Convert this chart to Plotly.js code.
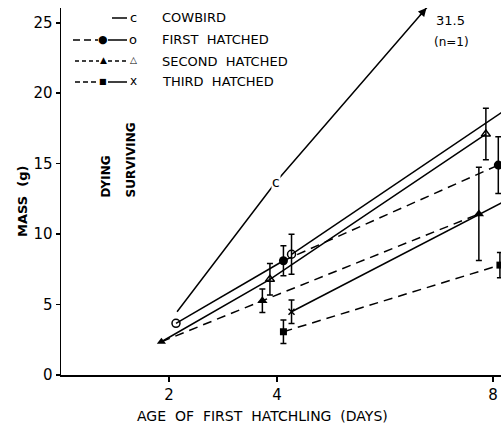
<!DOCTYPE html>
<html>
<head>
<meta charset="utf-8">
<script src="https://cdn.plot.ly/plotly-3.0.1.min.js"></script>
<style>html,body{margin:0;padding:0;background:#fff;}#chart{width:501px;height:428px;}</style>
</head>
<body>
<div id="chart"></div>
<script>
// ---- data (days, mass in g, +/- error) ----
const cowbirdDays = [2.15, 3.98, 8.0];
const cowbirdMass = [4.49, 13.7, 31.5];

const firstStartDays = [2.13];
const firstStartMass = [3.67];
const firstDyingDays = [4.12, 8.10];
const firstDyingMass = [8.11, 14.9];
const firstDyingErr  = [1.06, 2.01];
const firstSurvDays  = [4.27, 8.30];
const firstSurvMass  = [8.57, 19.0];
const firstSurvErr   = [1.42, 0];

const secondStartDays = [1.86];
const secondStartMass = [2.36];
const secondDyingDays = [3.73, 7.74];
const secondDyingMass = [5.27, 11.43];
const secondDyingErr  = [0.83, 3.31];
const secondSurvDays  = [3.87, 7.87];
const secondSurvMass  = [6.79, 17.1];
const secondSurvErr   = [1.12, 1.83];

const thirdDyingDays = [4.12, 8.13];
const thirdDyingMass = [3.07, 7.8];
const thirdDyingErr  = [0.83, 0.89];
const thirdSurvDays  = [4.27, 8.30];
const thirdSurvMass  = [4.49, 12.5];
const thirdSurvErr   = [0.83, 0];

const xTicks = [2, 4, 8];
const cowbirdNote = ['31.5', '(n=1)'];
const legendLabels = ['COWBIRD', 'FIRST\u00a0\u00a0HATCHED', 'SECOND\u00a0\u00a0HATCHED', 'THIRD\u00a0\u00a0HATCHED'];

// ---- layout geometry ----
const W = 501, H = 428;
const L = 61, R = 501, T = 8, B = 375;
const xMax = 8.15, yMax = 26.05;
const px = x => (x - L) / (R - L);
const py = y => (B - y) / (B - T);
const FONT = 'DejaVu Sans, sans-serif';
const DASH = '9px,6px';

function errBar(arr) {
  return {type: 'data', array: arr, visible: true, color: '#000', thickness: 1.5, width: 3};
}

const traces = [
  // cowbird
  {x: cowbirdDays, y: cowbirdMass, mode: 'lines', line: {color: '#000', width: 1.5}},
  // first hatched: start -> dying point (solid), dying (dashed), surviving (solid)
  {x: firstStartDays.concat([firstDyingDays[0]]), y: firstStartMass.concat([firstDyingMass[0]]),
   mode: 'lines', line: {color: '#000', width: 1.5}},
  {x: firstDyingDays, y: firstDyingMass, mode: 'lines+markers', line: {color: '#000', width: 1.5, dash: DASH},
   marker: {symbol: 'circle', size: 9, color: '#000'}, error_y: errBar(firstDyingErr)},
  {x: firstSurvDays, y: firstSurvMass, mode: 'lines+markers', line: {color: '#000', width: 1.5},
   marker: {symbol: 'circle-open', size: 8, color: '#000', line: {width: 1.5}}, error_y: errBar(firstSurvErr)},
  {x: firstStartDays, y: firstStartMass, mode: 'markers',
   marker: {symbol: 'circle-open', size: 8, color: '#000', line: {width: 1.5}}},
  // second hatched
  {x: secondStartDays.concat(secondSurvDays), y: secondStartMass.concat(secondSurvMass), mode: 'lines',
   line: {color: '#000', width: 1.5}},
  {x: secondSurvDays, y: secondSurvMass, mode: 'markers',
   marker: {symbol: 'triangle-up-open', size: 8, color: '#000', line: {width: 1.5}}, error_y: errBar(secondSurvErr)},
  {x: secondStartDays.concat(secondDyingDays), y: secondStartMass.concat(secondDyingMass), mode: 'lines',
   line: {color: '#000', width: 1.5, dash: DASH}},
  {x: secondDyingDays, y: secondDyingMass, mode: 'markers',
   marker: {symbol: 'triangle-up', size: 9, color: '#000'}, error_y: errBar(secondDyingErr)},
  {x: secondStartDays, y: secondStartMass, mode: 'markers',
   marker: {symbol: 'triangle-up', size: 8, color: '#000'}},
  // third hatched
  {x: thirdDyingDays, y: thirdDyingMass, mode: 'lines+markers', line: {color: '#000', width: 1.5, dash: DASH},
   marker: {symbol: 'square', size: 7, color: '#000'}, error_y: errBar(thirdDyingErr)},
  {x: thirdSurvDays, y: thirdSurvMass, mode: 'lines+markers', line: {color: '#000', width: 1.5},
   marker: {symbol: 'x-thin-open', size: 6, color: '#000', line: {width: 1.5, color: '#000'}}, error_y: errBar(thirdSurvErr)}
];

// arrow tip where the cowbird line leaves the top of the plot
const tt = (yMax - cowbirdMass[1]) / (cowbirdMass[2] - cowbirdMass[1]);
const tipX = cowbirdDays[1] + tt * (cowbirdDays[2] - cowbirdDays[1]);
const dxp = (cowbirdDays[2] - cowbirdDays[1]) * (R - L) / xMax;
const dyp = (cowbirdMass[2] - cowbirdMass[1]) * (B - T) / yMax;
const dlen = Math.hypot(dxp, dyp);
const aLen = 12;

function note(x, y, text, size, extra) {
  return Object.assign({x: px(x), y: py(y), xref: 'paper', yref: 'paper', text: text, showarrow: false,
    xanchor: 'center', yanchor: 'middle', font: {family: FONT, size: size, color: '#000'}}, extra || {});
}

const annotations = [
  {x: tipX, y: yMax, xref: 'x', yref: 'y', text: '', showarrow: true, arrowhead: 2, arrowsize: 1.1,
   arrowwidth: 1.5, arrowcolor: '#000', ax: -dxp / dlen * aLen, ay: dyp / dlen * aLen},
  {x: cowbirdDays[1], y: cowbirdMass[1], xref: 'x', yref: 'y', text: 'c', showarrow: false,
   xanchor: 'center', yanchor: 'middle', bgcolor: '#fff', borderpad: 0,
   font: {family: FONT, size: 14, color: '#000'}},
  note(450, 20, cowbirdNote[0], 13),
  note(451, 42, cowbirdNote[1], 12),
  // axis titles
  note(262, 416, 'AGE\u00a0\u00a0OF\u00a0\u00a0FIRST\u00a0\u00a0HATCHLING\u00a0\u00a0(DAYS)', 14),
  note(22, 202, '<b>MASS\u00a0\u00a0(g)</b>', 13, {textangle: -90}),
  // DYING / SURVIVING
  note(106, 176.5, '<b>DYING</b>', 12, {textangle: -90}),
  note(130, 160.5, '<b>SURVIVING</b>', 12, {textangle: -90})
];

// legend (drawn manually: each row combines a dying and a surviving style)
const rowsY = [18, 40, 61, 82];
const shapes = [];
function seg(x0, x1, y, dash) {
  shapes.push({type: 'line', xref: 'paper', yref: 'paper', x0: px(x0), x1: px(x1), y0: py(y), y1: py(y),
    line: {color: '#000', width: 1.5, dash: dash || 'solid'}});
}
function sym(x, y, t, size) {
  annotations.push(note(x, y, t, size));
}
seg(112, 127, rowsY[0]);              sym(133, rowsY[0] - 1, 'c', 13);
seg(73, 98, rowsY[1], '7px,4px');     sym(103, rowsY[1], '\u25CF', 11); seg(108, 127, rowsY[1]); sym(133, rowsY[1] - 1, 'o', 13);
seg(75, 99, rowsY[2], '4px,3px');     sym(103, rowsY[2] - 1, '\u25B2', 9);  seg(108, 127, rowsY[2], '4px,3px'); sym(133, rowsY[2] - 1, '\u25B3', 9);
seg(75, 99, rowsY[3], '5px,3px');     sym(103, rowsY[3], '\u25A0', 8);  seg(108, 127, rowsY[3]); sym(133, rowsY[3] - 1, 'x', 12);
legendLabels.forEach((lab, i) => {
  annotations.push(note(160, rowsY[i], lab, 13, {xanchor: 'left'}));
});

const layout = {
  width: W, height: H,
  margin: {l: L, r: W - R, t: T, b: H - B, pad: 0},
  paper_bgcolor: '#fff', plot_bgcolor: '#fff',
  showlegend: false,
  xaxis: {range: [0, xMax], tickvals: xTicks, ticktext: xTicks.map(String), ticks: 'outside', ticklen: 5,
    tickwidth: 1.5, tickcolor: '#000', showline: true, linewidth: 1.5, linecolor: '#000',
    showgrid: false, zeroline: false, tickfont: {family: FONT, size: 15, color: '#000'}},
  yaxis: {range: [0, yMax], tick0: 0, dtick: 5, ticks: 'outside', ticklen: 4, tickwidth: 1.5, tickcolor: '#000',
    showline: true, linewidth: 1.5, linecolor: '#000', showgrid: false, zeroline: false,
    tickfont: {family: FONT, size: 15, color: '#000'}},
  annotations: annotations,
  shapes: shapes
};

Plotly.newPlot('chart', traces, layout, {staticPlot: true, displayModeBar: false});
</script>
</body>
</html>
